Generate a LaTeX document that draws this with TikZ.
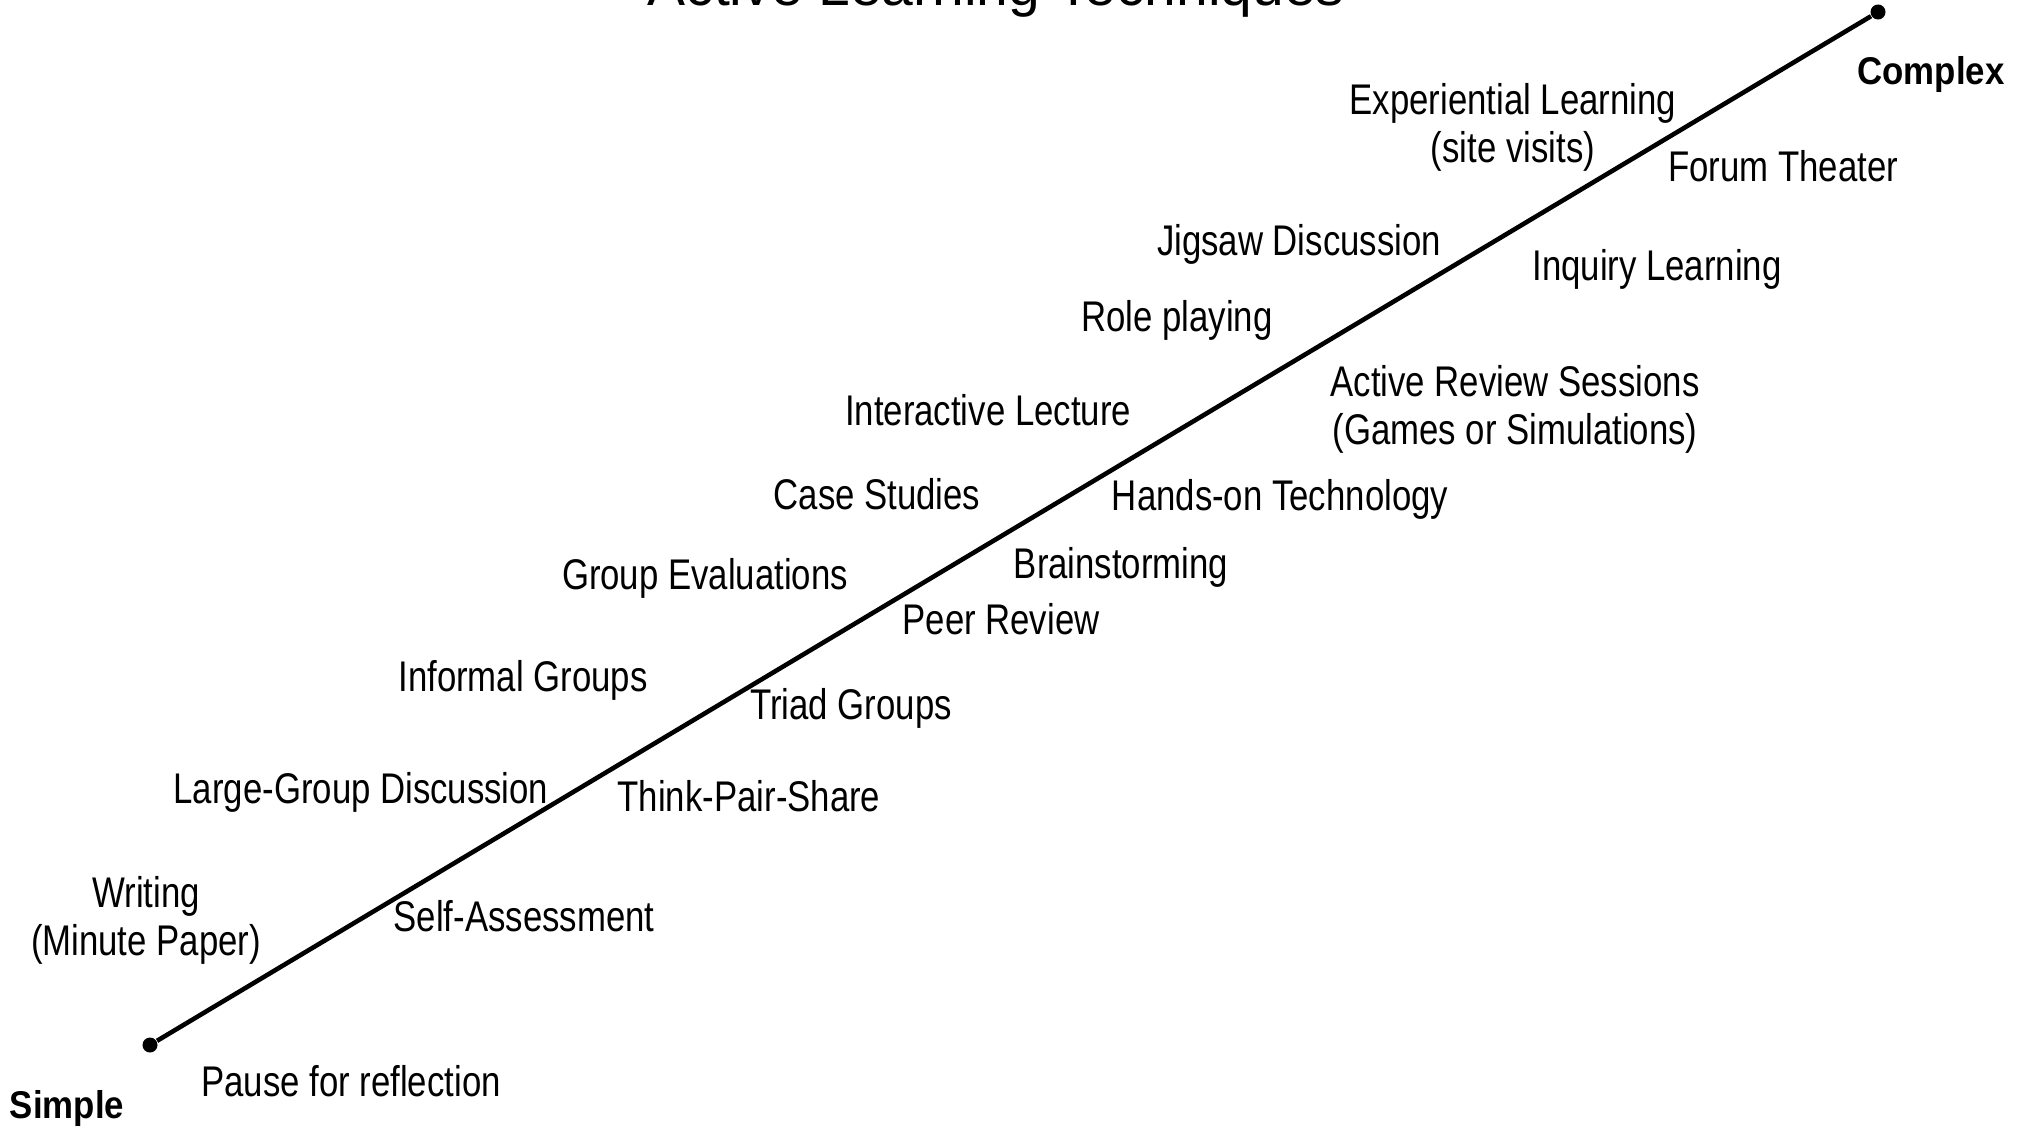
\documentclass[tikz,border=0pt]{standalone}
\usepackage{fontspec}
\setmainfont{Liberation Sans}
\newfontfamily\narrowfont{Liberation Sans}[FakeStretch=0.81]
\newfontfamily\narrowbold{Liberation Sans Bold}[FakeStretch=0.9]
\usepackage{tikz}
\usetikzlibrary{calc}
\tikzstyle{technique} = [font=\narrowfont\fontsize{12.2}{13.6}\selectfont, inner sep=0pt, anchor=base, align=center]
\tikzstyle{twoline} = [technique, anchor=center]
\tikzstyle{endlabel} = [font=\narrowbold\fontsize{11}{13}\selectfont, inner sep=0pt, anchor=base]
\tikzstyle{enddot} = [circle, fill=black, inner sep=0pt, minimum size=0.15cm]

\begin{document}
\begin{tikzpicture}[x=0.01cm, y=-0.01cm]

        \useasboundingbox (0,0) rectangle (2022,1130);

        \node (title) [anchor=base, inner sep=0pt, font=\fontsize{16.2}{19}\selectfont] at (996,5) {Active Learning Techniques};

        \node (simpledot) [enddot] at (150,1045) {};
        \node (complexdot) [enddot] at (1878,12) {};
        \draw[line width=1.3pt] (simpledot) -- (complexdot);

        \node (simple) [endlabel] at (67,1118) {Simple};
        \node (complex) [endlabel] at (1931,84) {Complex};

        % above the line
        \node (experiential) [twoline] at (1513,127) {Experiential Learning\\(site visits)};
        \node (jigsaw) [technique] at (1299,255) {Jigsaw Discussion};
        \node (roleplay) [technique] at (1177,331) {Role playing};
        \node (lecture) [technique] at (988,425) {Interactive Lecture};
        \node (cases) [technique] at (877,509) {Case Studies};
        \node (groupeval) [technique] at (705,589) {Group Evaluations};
        \node (informal) [technique] at (523,691) {Informal Groups};
        \node (largegroup) [technique] at (361,803) {Large-Group Discussion};
        \node (writing) [twoline] at (146,920) {Writing\\(Minute Paper)};

        % below the line
        \node (forum) [technique] at (1783,181) {Forum Theater};
        \node (inquiry) [technique] at (1657,280) {Inquiry Learning};
        \node (review) [twoline] at (1515,409) {Active Review Sessions\\(Games or Simulations)};
        \node (handson) [technique] at (1280,510) {Hands-on Technology};
        \node (brainstorm) [technique] at (1121,578) {Brainstorming};
        \node (peer) [technique] at (1001,634) {Peer Review};
        \node (triad) [technique] at (851,719) {Triad Groups};
        \node (thinkpair) [technique] at (749,811) {Think-Pair-Share};
        \node (selfassess) [technique] at (524,931) {Self-Assessment};
        \node (pause) [technique] at (351,1096) {Pause for reflection};

    \end{tikzpicture}
\end{document}
